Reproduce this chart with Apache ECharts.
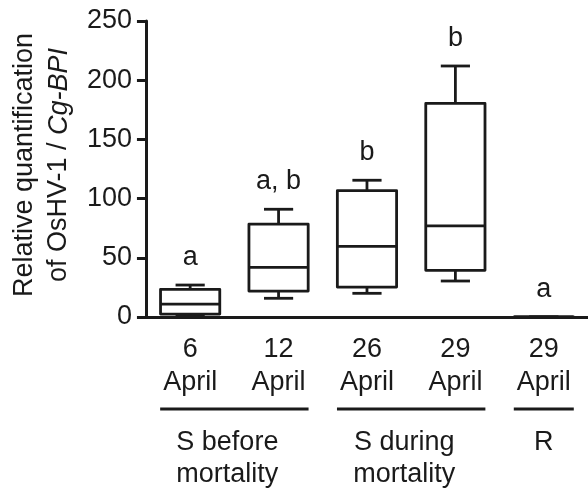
<!DOCTYPE html>
<html>
<head>
<meta charset="utf-8">
<script src="https://cdn.jsdelivr.net/npm/echarts@6/dist/echarts.min.js"></script>
<style>html,body{margin:0;padding:0;background:#fff}#c{width:588px;height:495px}</style>
</head>
<body>
<div id="c"></div>
<script>
// ---- data ----
const categories = ['6\nApril', '12\nApril', '26\nApril', '29\nApril', '29\nApril'];
// [min, Q1, median, Q3, max]
const boxMin    = [0.5, 15.8, 20.0, 30.4, 0];
const boxQ1     = [2.5, 21.9, 25.3, 39.4, 0];
const boxMedian = [10.9, 41.9, 59.6, 77.0, 0];
const boxQ3     = [23.4, 78.4, 106.8, 180.4, 0];
const boxMax    = [27.0, 91.0, 115.5, 212.0, 0];
const sigLetters = ['a', 'a, b', 'b', 'b', 'a'];
const yTicks = [0, 50, 100, 150, 200, 250];
const groupNames = ['S before\nmortality', 'S during\nmortality', 'R'];
const groupSpans = [[0, 1], [2, 3], [4, 4]];

const INK = '#1a1a1a';
const FONT = "'Liberation Sans', Arial, sans-serif";
const FS = 27;

const boxData = categories.map((c, i) => [i, boxMin[i], boxQ1[i], boxMedian[i], boxQ3[i], boxMax[i]]);

const chart = echarts.init(document.getElementById('c'));
const option = {
  animation: false,
  backgroundColor: '#fff',
  grid: { left: 143, right: 0, top: 21, bottom: 178, containLabel: false },
  xAxis: {
    type: 'category',
    data: categories,
    boundaryGap: true,
    z: 5,
    axisLine: { lineStyle: { color: INK, width: 3 } },
    axisTick: { alignWithLabel: true, length: 8, lineStyle: { color: INK, width: 3 } },
    axisLabel: { color: INK, fontFamily: FONT, fontSize: FS, lineHeight: 33, margin: 16, interval: 0 },
    splitLine: { show: false }
  },
  yAxis: {
    type: 'value',
    min: yTicks[0],
    max: yTicks[yTicks.length - 1],
    interval: 50,
    z: 5,
    axisLine: { show: true, lineStyle: { color: INK, width: 3 } },
    axisTick: { show: true, length: 9, lineStyle: { color: INK, width: 3 } },
    axisLabel: { color: INK, fontFamily: FONT, fontSize: FS, margin: 14 },
    splitLine: { show: false },
    name: '{n|Relative quantification}\n{n|of OsHV-1 / }{i|Cg-BPI}',
    nameLocation: 'middle',
    nameRotate: 90,
    nameGap: 68,
    nameTextStyle: {
      color: INK,
      fontFamily: FONT,
      fontSize: FS,
      lineHeight: 34,
      padding: [0, 0, 0, 8],
      rich: {
        n: { fontFamily: FONT, fontSize: FS, color: INK, lineHeight: 34 },
        i: { fontFamily: FONT, fontSize: FS, color: INK, fontStyle: 'italic', lineHeight: 34 }
      }
    }
  },
  series: [{
    type: 'custom',
    z: 1,
    data: boxData,
    encode: { x: 0, y: [1, 2, 3, 4, 5] },
    renderItem: function (params, api) {
      const idx = api.value(0);
      const pMin = api.coord([idx, api.value(1)]);
      const pQ1 = api.coord([idx, api.value(2)]);
      const pMed = api.coord([idx, api.value(3)]);
      const pQ3 = api.coord([idx, api.value(4)]);
      const pMax = api.coord([idx, api.value(5)]);
      const band = api.size([1, 0])[0];
      const cx = pMed[0];
      const bw = band * 0.67, cw = band * 0.33;
      const ls = { stroke: INK, lineWidth: 2.8, fill: null, lineJoin: 'round' };
      const line = (x1, y1, x2, y2) => ({ type: 'line', shape: { x1, y1, x2, y2 }, style: ls });
      return {
        type: 'group',
        children: [
          { type: 'rect', shape: { x: cx - bw / 2, y: pQ3[1], width: bw, height: pQ1[1] - pQ3[1] }, style: { stroke: INK, lineWidth: 2.8, fill: null, lineJoin: 'round' } },
          line(cx - bw / 2, pMed[1], cx + bw / 2, pMed[1]),
          line(cx, pQ3[1], cx, pMax[1]),
          line(cx, pQ1[1], cx, pMin[1]),
          line(cx - cw / 2, pMax[1], cx + cw / 2, pMax[1]),
          line(cx - cw / 2, pMin[1], cx + cw / 2, pMin[1]),
          { type: 'text', style: { text: sigLetters[params.dataIndex], x: cx, y: pMax[1] - 14, align: 'center', verticalAlign: 'bottom', fill: INK, font: FS + 'px ' + FONT } }
        ]
      };
    }
  }]
};
chart.setOption(option);

// group annotations under the category labels
const axisY = chart.convertToPixel({ gridIndex: 0 }, [0, 0])[1];
const graphics = [];
groupSpans.forEach((span, g) => {
  const x0 = chart.convertToPixel({ xAxisIndex: 0 }, span[0]);
  const x1 = chart.convertToPixel({ xAxisIndex: 0 }, span[1]);
  const pad = 30;
  const ly = axisY + 92;
  graphics.push({ type: 'line', shape: { x1: x0 - pad, y1: ly, x2: x1 + pad, y2: ly }, style: { stroke: INK, lineWidth: 3 } });
  graphics.push({ type: 'text', style: { text: groupNames[g], x: (x0 + x1) / 2 - (span[0] === span[1] ? 0 : 7), y: ly + 18, align: 'center', verticalAlign: 'top', fill: INK, font: FS + 'px ' + FONT, lineHeight: 32 } });
});
chart.setOption({ graphic: graphics });
</script>
</body>
</html>
